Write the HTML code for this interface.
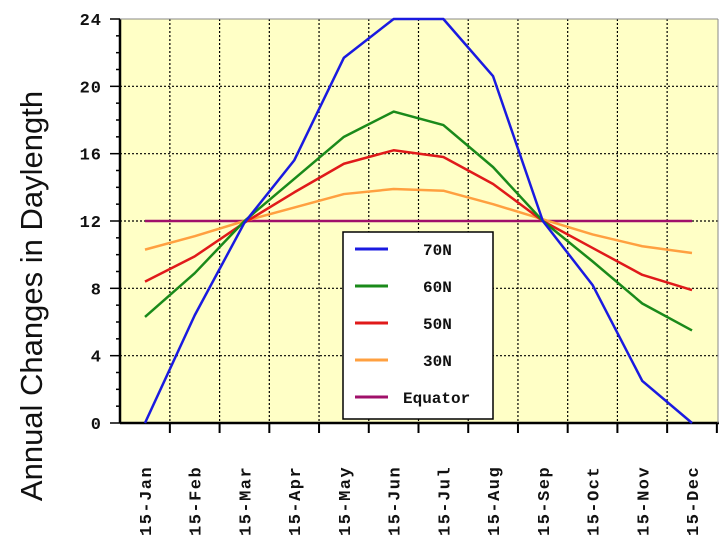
<!DOCTYPE html>
<html><head><meta charset="utf-8"><style>
body{margin:0;background:#fff;width:720px;height:540px;overflow:hidden}
svg{display:block}
text{font-family:"Liberation Mono",monospace;font-weight:bold;fill:#111}
</style></head><body>
<svg id="chart" width="720" height="540" xmlns="http://www.w3.org/2000/svg">
<text transform="translate(42,296) rotate(-90)" text-anchor="middle" style="font-family:'Liberation Sans',sans-serif;font-weight:normal;font-size:31px">Annual Changes in Daylength</text>
<g id="plot"></g>
</svg>
<script>
const categories=["15-Jan","15-Feb","15-Mar","15-Apr","15-May","15-Jun","15-Jul","15-Aug","15-Sep","15-Oct","15-Nov","15-Dec"];
const s70=[0,6.4,11.9,15.6,21.7,24,24,20.6,12,8.2,2.5,0];
const s60=[6.3,8.9,12,14.5,17,18.5,17.7,15.2,12,9.6,7.1,5.5];
const s50=[8.4,9.9,11.9,13.7,15.4,16.2,15.8,14.2,12,10.4,8.8,7.9];
const s30=[10.3,11.1,12,12.8,13.6,13.9,13.8,13.0,12.1,11.2,10.5,10.1];
const sEq=[12,12,12,12,12,12,12,12,12,12,12,12];
const yTicks=[0,4,8,12,16,20,24];
const seriesNames=["70N","60N","50N","30N","Equator"];
const colors=["#1a1ae0","#1a8a1a","#e01a1a","#ffa040","#a0106a"];
const NS="http://www.w3.org/2000/svg";
const g=document.getElementById('plot');
const L=120,R=718,T=19,B=423;
const x=i=>145+i*(692-145)/(categories.length-1);
const y=v=>B-(v/24)*(B-T);
function el(t,a,p){const e=document.createElementNS(NS,t);for(const k in a)e.setAttribute(k,a[k]);(p||g).appendChild(e);return e;}
const bg=el('rect',{x:L,y:T,width:R-L,height:B-T,fill:'#ffffc6'});


for(let i=0;i<categories.length;i++){
  const gx=x(i)+(x(1)-x(0))/2;
  if(gx<R-2){const gl=el('line',{x1:gx,x2:gx,y1:T,y2:B,stroke:'#000','stroke-width':1.2,'stroke-dasharray':'2,2'});
  
  }
  const tk=el('line',{x1:gx,x2:gx,y1:B,y2:B+10,stroke:'#000','stroke-width':2});
  
  
  const lb=el('text',{transform:`translate(${x(i)+6},${B+113}) rotate(-90)`,'font-size':'17','letter-spacing':'1.5'});
  lb.textContent=categories[i];
  
  
}
for(let v=0;v<=24;v+=1){el('line',{x1:L-(v%4?4:0),x2:L,y1:y(v),y2:y(v),stroke:'#000','stroke-width':1.5});}
yTicks.forEach(v=>{
  if(v>0&&v<24){const gl=el('line',{x1:L,x2:R,y1:y(v),y2:y(v),stroke:'#000','stroke-width':1.2,'stroke-dasharray':'2,2'});
  
  }
  el('line',{x1:L-10,x2:L,y1:y(v),y2:y(v),stroke:'#000','stroke-width':1.5});
  const t=el('text',{x:L-18,y:y(v)+6,'text-anchor':'end','font-size':'17','letter-spacing':'1'});
  t.textContent=String(v);
  
  
});
el('line',{x1:L,x2:L,y1:T,y2:B,stroke:'#000','stroke-width':2.5});
el('line',{x1:L,x2:R+1,y1:B,y2:B,stroke:'#000','stroke-width':2.5});
el('line',{x1:L,x2:R,y1:T,y2:T,stroke:'#888','stroke-width':1});
el('line',{x1:R,x2:R,y1:T,y2:B,stroke:'#888','stroke-width':1});
const all=[s70,s60,s50,s30,sEq];
[4,3,2,1,0].forEach(k=>{
  const p=el('polyline',{points:all[k].map((v,i)=>x(i)+','+y(v)).join(' '),fill:'none',stroke:colors[k],'stroke-width':2.5,'stroke-linejoin':'round'});
  
  
});
const lg=el('g',{});


el('rect',{x:343,y:232,width:150,height:187,fill:'#fff',stroke:'#000','stroke-width':1.5},lg);
seriesNames.forEach((n,k)=>{
  const cy=249+k*37;
  el('line',{x1:355,x2:388,y1:cy,y2:cy,stroke:colors[k],'stroke-width':3},lg);
  const t=el('text',{x:n==='Equator'?403:423,y:cy+6,'font-size':'16'},lg);
  t.textContent=n;
  
  
});
</script>
</body></html>
